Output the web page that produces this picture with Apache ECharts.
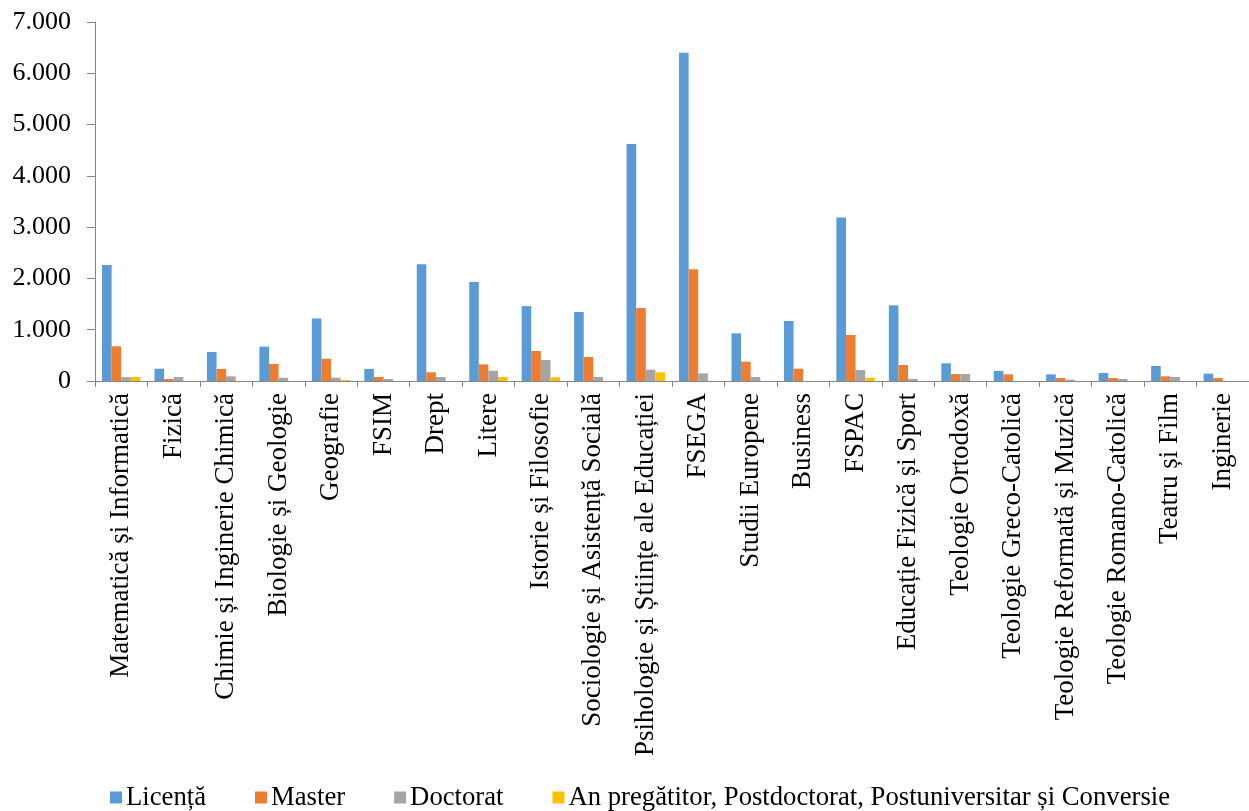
<!DOCTYPE html>
<html><head><meta charset="utf-8">
<script src="https://cdn.jsdelivr.net/npm/echarts@6/dist/echarts.min.js"></script>
<style>html,body{margin:0;padding:0;background:#fff}#c{width:1249px;height:811px}</style>
</head><body><div id="c"></div>
<script>
const categories = ["Matematică și Informatică","Fizică","Chimie și Inginerie Chimică","Biologie și Geologie","Geografie","FSIM","Drept","Litere","Istorie și Filosofie","Sociologie și Asistență Socială","Psihologie și Științe ale Educației","FSEGA","Studii Europene","Business","FSPAC","Educație Fizică și Sport","Teologie Ortodoxă","Teologie Greco-Catolică","Teologie Reformată și Muzică","Teologie Romano-Catolică","Teatru și Film","Inginerie"];
const licenta   = [2260, 240, 565, 670, 1220, 235, 2275, 1930, 1460, 1345, 4620, 6400, 930, 1170, 3190, 1475, 345, 195, 130, 156, 292, 143];
const master    = [676, 40, 234, 331, 435, 78, 170, 325, 585, 468, 1423, 2177, 377, 240, 897, 312, 136, 130, 58, 58, 91, 58];
const doctorat  = [75, 78, 91, 64, 64, 40, 78, 201, 409, 78, 221, 150, 78, 0, 214, 40, 136, 0, 25, 40, 78, 0];
const anPregatitor = [78, 0, 0, 0, 20, 0, 0, 78, 72, 0, 169, 0, 0, 0, 64, 0, 0, 0, 0, 0, 0, 0];
const seriesNames = ["Licență","Master","Doctorat","An pregătitor, Postdoctorat, Postuniversitar și Conversie"];
const colors = ["#5B9BD5","#ED7D31","#A5A5A5","#FFC000"];
const yTicks = [0,1000,2000,3000,4000,5000,6000,7000];

const font = "Liberation Serif";
const chart = echarts.init(document.getElementById('c'));
const mk = (name, data, i) => ({
  name, type: 'bar', data, barWidth: 9.6, barGap: '0%',
  itemStyle: {color: colors[i]}, emphasis: {disabled: true}
});
chart.setOption({
  animation: false,
  color: colors,
  grid: {left: 95, right: 0, top: 22, bottom: 430, containLabel: false},
  legend: {
    top: 784, left: 110, padding: 0, itemWidth: 12, itemHeight: 12, itemGap: 49,
    icon: 'rect',
    textStyle: {fontFamily: font, fontSize: 26.7, color: '#000', padding: [0,0,0,-1]},
    data: seriesNames
  },
  xAxis: {
    type: 'category', data: categories, boundaryGap: true,
    axisLine: {lineStyle: {color: '#868686', width: 1}},
    axisTick: {show: true, alignWithLabel: false, length: 6, lineStyle: {color: '#868686'}},
    axisLabel: {rotate: 90, interval: 0, fontFamily: font, fontSize: 27, color: '#000', margin: 12}
  },
  yAxis: {
    type: 'value', min: 0, max: 7000, interval: 1000,
    axisLine: {show: true, lineStyle: {color: '#868686'}},
    axisTick: {show: true, inside: false, length: 8, lineStyle: {color: '#868686'}},
    splitLine: {show: false},
    axisLabel: {fontFamily: font, fontSize: 26, color: '#000', margin: 24,
      formatter: v => yTicks.includes(v) ? (v === 0 ? '0' : String(v).replace(/\B(?=(\d{3})+(?!\d))/g, '.')) : ''}
  },
  series: [mk(seriesNames[0], licenta, 0), mk(seriesNames[1], master, 1), mk(seriesNames[2], doctorat, 2), mk(seriesNames[3], anPregatitor, 3)]
});
</script></body></html>
